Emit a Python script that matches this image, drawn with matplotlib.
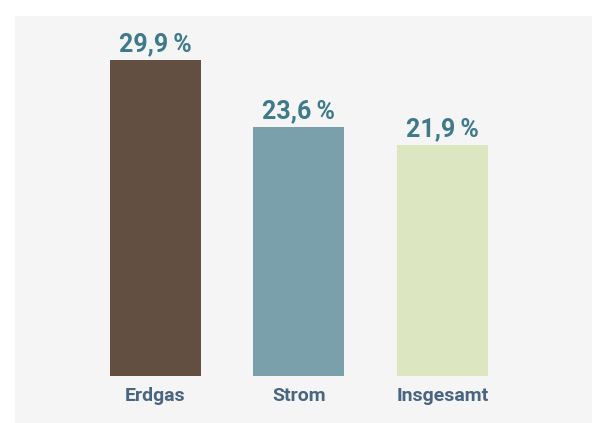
import matplotlib.pyplot as plt
from matplotlib.patches import Rectangle

categories = ["Erdgas", "Strom", "Insgesamt"]
values = [29.9, 23.6, 21.9]
value_labels = ["29,9\u2009%", "23,6\u2009%", "21,9\u2009%"]
bar_colors = ["#634f42", "#7aa1ab", "#dce6c0"]

fonts = ["Liberation Sans Narrow", "Roboto", "DejaVu Sans"]
plt.rcParams["font.family"] = fonts

fig = plt.figure(figsize=(5.92, 4.23), dpi=100)
fig.patch.set_facecolor("white")
# gray panel behind the axes
fig.patches.append(Rectangle((15 / 592, 0), 1, (423 - 16) / 423,
                             transform=fig.transFigure, facecolor="#f5f5f5",
                             edgecolor="none", zorder=-5))

ax = fig.add_axes([15 / 592, (423 - 376) / 423, 577 / 592, 360 / 423])
ax.patch.set_alpha(0)
ax.set_zorder(1)

x = range(len(categories))
ax.bar(x, values, width=0.634, color=bar_colors)

for xi, v, lab in zip(x, values, value_labels):
    ax.annotate(lab, (xi, v), xytext=(0, 6), textcoords="offset points",
                ha="center", va="baseline", fontsize=18, fontweight="bold",
                color="#3e7a8a")

ax.set_xlim(-0.979, 3.042)
ax.set_ylim(0, 34.06)
ax.set_xticks(list(x))
ax.set_xticklabels(categories, fontsize=14, fontweight="bold", color="#4a6580")
ax.tick_params(axis="x", length=0, pad=8)
ax.set_yticks([])
for s in ax.spines.values():
    s.set_visible(False)

fig.savefig("out.png", dpi=100)
